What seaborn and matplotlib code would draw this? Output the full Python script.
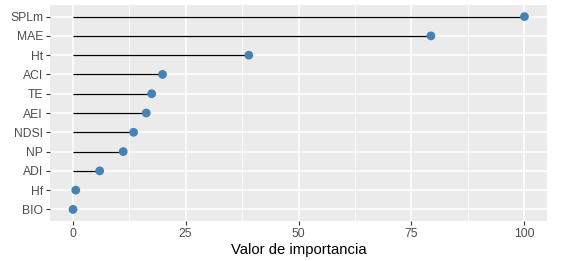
import matplotlib
matplotlib.use("Agg")
import matplotlib.pyplot as plt
import seaborn as sns
import pandas as pd
import numpy as np

variables = ["SPLm", "MAE", "Ht", "ACI", "TE", "AEI", "NDSI", "NP", "ADI", "Hf", "BIO"]
importance = [100, 79.3, 39.0, 19.9, 17.5, 16.3, 13.5, 11.2, 6.0, 0.7, 0.1]
xticks = [0, 25, 50, 75, 100]

df = pd.DataFrame({"var": variables, "imp": importance})

sns.set_theme(style="darkgrid", rc={
    "axes.facecolor": "#EBEBEB",
    "grid.color": "white",
})
plt.rcParams["font.family"] = ["Liberation Sans", "DejaVu Sans"]

fig = plt.figure(figsize=(5.62, 2.61), dpi=100)
ax = fig.add_axes([50/562, 1 - 221/261, (547-50)/562, (221-5)/261])

n = len(variables)
ypos = np.arange(n)[::-1]
# minor grid
for v in [12.5, 37.5, 62.5, 87.5]:
    ax.axvline(v, color="white", lw=0.55, zorder=0)
ax.hlines(ypos, 0, df["imp"], color="black", lw=0.9, zorder=2)
sns.scatterplot(x=df["imp"], y=ypos, color="#4682B4", s=40, edgecolor="none", ax=ax, zorder=3)

ax.set_xlim(-5, 105)
ax.set_ylim(-0.6, n - 1 + 0.6)
ax.set_yticks(ypos)
ax.set_yticklabels(variables)
ax.set_xticks(xticks)
ax.set_xticklabels([str(t) for t in xticks])
ax.grid(True, color="white", lw=1.1)
ax.set_axisbelow(True)
for s in ax.spines.values():
    s.set_visible(False)
ax.tick_params(axis="both", which="major", length=3, width=0.8, color="#333333",
               labelsize=8.7, labelcolor="#4D4D4D", pad=2, left=True, bottom=True)
ax.set_xlabel("Valor de importancia", fontsize=10.7, color="black", labelpad=2)
ax.set_ylabel("")

fig.savefig("out.png", dpi=100)
